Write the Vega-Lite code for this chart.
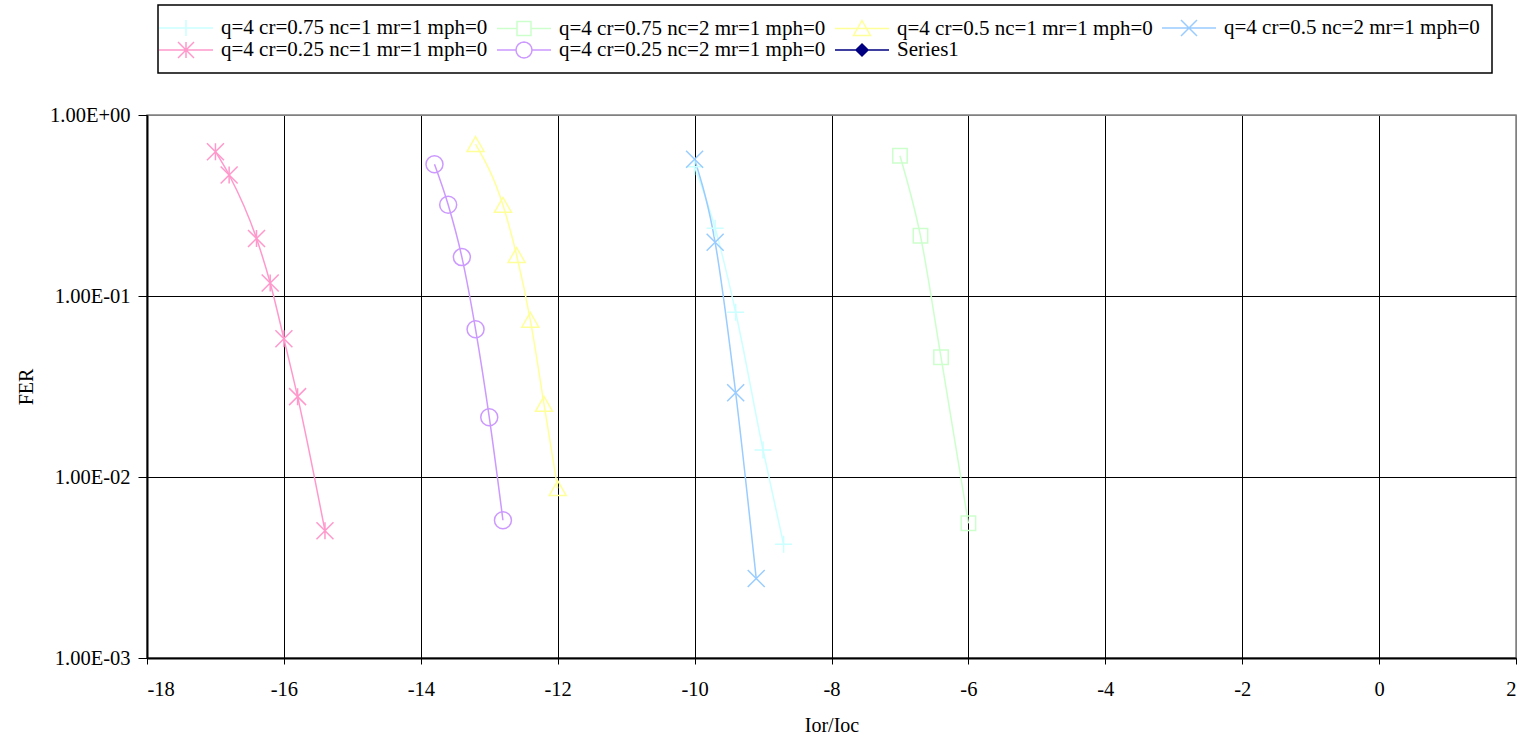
{
  "$schema": "https://vega.github.io/schema/vega-lite/v6.json",
  "width": 1369,
  "height": 543,
  "autosize": {"type": "none"},
  "padding": {"left": 147, "top": 115, "right": 14, "bottom": 82},
  "background": "white",
  "data": {"values": [
    {"s": "q=4 cr=0.75 nc=1 mr=1 mph=0", "x": -10.0, "y": 0.518},
    {"s": "q=4 cr=0.75 nc=1 mr=1 mph=0", "x": -9.7, "y": 0.237},
    {"s": "q=4 cr=0.75 nc=1 mr=1 mph=0", "x": -9.4, "y": 0.0813},
    {"s": "q=4 cr=0.75 nc=1 mr=1 mph=0", "x": -9.0, "y": 0.0141},
    {"s": "q=4 cr=0.75 nc=1 mr=1 mph=0", "x": -8.7, "y": 0.00425},
    {"s": "q=4 cr=0.75 nc=2 mr=1 mph=0", "x": -7.0, "y": 0.596},
    {"s": "q=4 cr=0.75 nc=2 mr=1 mph=0", "x": -6.7, "y": 0.215},
    {"s": "q=4 cr=0.75 nc=2 mr=1 mph=0", "x": -6.4, "y": 0.0459},
    {"s": "q=4 cr=0.75 nc=2 mr=1 mph=0", "x": -6.0, "y": 0.00555},
    {"s": "q=4 cr=0.5 nc=1 mr=1 mph=0", "x": -13.2, "y": 0.69},
    {"s": "q=4 cr=0.5 nc=1 mr=1 mph=0", "x": -12.8, "y": 0.318},
    {"s": "q=4 cr=0.5 nc=1 mr=1 mph=0", "x": -12.6, "y": 0.168},
    {"s": "q=4 cr=0.5 nc=1 mr=1 mph=0", "x": -12.4, "y": 0.0737},
    {"s": "q=4 cr=0.5 nc=1 mr=1 mph=0", "x": -12.2, "y": 0.0253},
    {"s": "q=4 cr=0.5 nc=1 mr=1 mph=0", "x": -12.0, "y": 0.00866},
    {"s": "q=4 cr=0.5 nc=2 mr=1 mph=0", "x": -10.0, "y": 0.569},
    {"s": "q=4 cr=0.5 nc=2 mr=1 mph=0", "x": -9.7, "y": 0.198},
    {"s": "q=4 cr=0.5 nc=2 mr=1 mph=0", "x": -9.4, "y": 0.0292},
    {"s": "q=4 cr=0.5 nc=2 mr=1 mph=0", "x": -9.1, "y": 0.00275},
    {"s": "q=4 cr=0.25 nc=1 mr=1 mph=0", "x": -17.0, "y": 0.627},
    {"s": "q=4 cr=0.25 nc=1 mr=1 mph=0", "x": -16.8, "y": 0.466},
    {"s": "q=4 cr=0.25 nc=1 mr=1 mph=0", "x": -16.4, "y": 0.208},
    {"s": "q=4 cr=0.25 nc=1 mr=1 mph=0", "x": -16.2, "y": 0.118},
    {"s": "q=4 cr=0.25 nc=1 mr=1 mph=0", "x": -16.0, "y": 0.058},
    {"s": "q=4 cr=0.25 nc=1 mr=1 mph=0", "x": -15.8, "y": 0.0278},
    {"s": "q=4 cr=0.25 nc=1 mr=1 mph=0", "x": -15.4, "y": 0.00505},
    {"s": "q=4 cr=0.25 nc=2 mr=1 mph=0", "x": -13.8, "y": 0.534},
    {"s": "q=4 cr=0.25 nc=2 mr=1 mph=0", "x": -13.6, "y": 0.319},
    {"s": "q=4 cr=0.25 nc=2 mr=1 mph=0", "x": -13.4, "y": 0.164},
    {"s": "q=4 cr=0.25 nc=2 mr=1 mph=0", "x": -13.2, "y": 0.0655},
    {"s": "q=4 cr=0.25 nc=2 mr=1 mph=0", "x": -13.0, "y": 0.0214},
    {"s": "q=4 cr=0.25 nc=2 mr=1 mph=0", "x": -12.8, "y": 0.00577}
  ]},
  "encoding": {
    "x": {
      "field": "x", "type": "quantitative",
      "scale": {"domain": [-18, 2], "nice": false, "zero": false},
      "axis": {
        "title": "Ior/Ioc",
        "values": [-18, -16, -14, -12, -10, -8, -6, -4, -2, 0, 2],
        "labelExpr": "'' + datum.value",
        "tickSize": 6,
        "labelPadding": 15,
        "titlePadding": 16,
        "gridColor": {"condition": {"test": "datum.value >= 2", "value": "#808080"}, "value": "black"}
      }
    },
    "y": {
      "field": "y", "type": "quantitative",
      "scale": {"type": "log", "domain": [0.001, 1], "nice": false},
      "axis": {
        "title": "FER",
        "values": [0.001, 0.01, 0.1, 1],
        "labelExpr": "datum.value > 0.5 ? '1.00E+00' : datum.value > 0.05 ? '1.00E-01' : datum.value > 0.005 ? '1.00E-02' : '1.00E-03'",
        "tickSize": 9,
        "labelPadding": 8,
        "titlePadding": 13,
        "gridColor": {"condition": {"test": "datum.value >= 0.5", "value": "#808080"}, "value": "black"}
      }
    },
    "color": {
      "field": "s", "type": "nominal", "title": null,
      "scale": {
        "domain": ["q=4 cr=0.75 nc=1 mr=1 mph=0", "q=4 cr=0.75 nc=2 mr=1 mph=0", "q=4 cr=0.5 nc=1 mr=1 mph=0", "q=4 cr=0.5 nc=2 mr=1 mph=0", "q=4 cr=0.25 nc=1 mr=1 mph=0", "q=4 cr=0.25 nc=2 mr=1 mph=0", "Series1"],
        "range": ["#CCFFFF", "#CCFFCC", "#FFFF99", "#99CCFF", "#FF99CC", "#CC99FF", "#000080"]
      },
      "legend": {
        "encode": {
          "symbols": {
            "update": {
              "shape": {"signal": "['M-2.7,0L2.7,0M0,-0.8L0,0.8', 'M-2.7,0L-0.7,0M0.7,0L2.7,0M-0.7,-0.7L0.7,-0.7L0.7,0.7L-0.7,0.7Z', 'M-2.7,0L2.7,0M0,-0.8L0.85,0.7L-0.85,0.7Z', 'M-2.7,0L2.7,0M-0.8,-0.8L0.8,0.8M-0.8,0.8L0.8,-0.8', 'M-2.7,0L2.7,0M-0.8,-0.8L0.8,0.8M-0.8,0.8L0.8,-0.8M0,-0.8L0,0.8', 'M-2.7,0L-0.8,0M0.8,0L2.7,0M0.8,0L0.739,0.306L0.566,0.566L0.306,0.739L0,0.8L-0.306,0.739L-0.566,0.566L-0.739,0.306L-0.8,0L-0.739,-0.306L-0.566,-0.566L-0.306,-0.739L0,-0.8L0.306,-0.739L0.566,-0.566L0.739,-0.306Z', 'M-2.7,0L2.7,0M0,-0.6L0.6,0L0,0.6L-0.6,0Z'][indexof(['q=4 cr=0.75 nc=1 mr=1 mph=0', 'q=4 cr=0.75 nc=2 mr=1 mph=0', 'q=4 cr=0.5 nc=1 mr=1 mph=0', 'q=4 cr=0.5 nc=2 mr=1 mph=0', 'q=4 cr=0.25 nc=1 mr=1 mph=0', 'q=4 cr=0.25 nc=2 mr=1 mph=0', 'Series1'], datum.value)]"},
              "fill": {"signal": "datum.value === 'Series1' ? '#000080' : 'transparent'"},
              "size": {"value": 400},
              "strokeWidth": {"value": 1.5},
              "opacity": {"value": 1}
            }
          }
        }
      }
    }
  },
  "layer": [
    {"mark": {"type": "line", "strokeWidth": 1.5, "interpolate": "monotone"}},
    {
      "transform": [{"filter": "datum.s === 'q=4 cr=0.75 nc=1 mr=1 mph=0'"}],
      "mark": {"type": "point", "filled": false, "strokeWidth": 1.5, "size": 289, "opacity": 1, "shape": "M-1,0L1,0M0,-1L0,1"}
    },
    {
      "transform": [{"filter": "datum.s === 'q=4 cr=0.75 nc=2 mr=1 mph=0'"}],
      "mark": {"type": "point", "filled": false, "strokeWidth": 1.5, "size": 289, "opacity": 1, "shape": "M-0.85,-0.85L0.85,-0.85L0.85,0.85L-0.85,0.85Z"}
    },
    {
      "transform": [{"filter": "datum.s === 'q=4 cr=0.5 nc=1 mr=1 mph=0'"}],
      "mark": {"type": "point", "filled": false, "strokeWidth": 1.5, "size": 289, "opacity": 1, "shape": "M0,-0.9L1,0.85L-1,0.85Z"}
    },
    {
      "transform": [{"filter": "datum.s === 'q=4 cr=0.5 nc=2 mr=1 mph=0'"}],
      "mark": {"type": "point", "filled": false, "strokeWidth": 1.5, "size": 289, "opacity": 1, "shape": "M-1,-1L1,1M-1,1L1,-1"}
    },
    {
      "transform": [{"filter": "datum.s === 'q=4 cr=0.25 nc=1 mr=1 mph=0'"}],
      "mark": {"type": "point", "filled": false, "strokeWidth": 1.5, "size": 289, "opacity": 1, "shape": "M-1,-1L1,1M-1,1L1,-1M0,-1L0,1"}
    },
    {
      "transform": [{"filter": "datum.s === 'q=4 cr=0.25 nc=2 mr=1 mph=0'"}],
      "mark": {"type": "point", "filled": false, "strokeWidth": 1.5, "size": 289, "opacity": 1, "shape": "circle"}
    }
  ],
  "config": {
    "font": "Liberation Serif, Times New Roman, serif",
    "view": {"stroke": "#808080", "strokeWidth": 1.5},
    "axis": {
      "labelFont": "Liberation Serif, Times New Roman, serif",
      "labelFontSize": 20.5,
      "labelColor": "black",
      "titleFont": "Liberation Serif, Times New Roman, serif",
      "titleFontSize": 20,
      "titleFontWeight": "normal",
      "titleColor": "black",
      "domainColor": "black",
      "domainWidth": 2,
      "tickColor": "black",
      "tickWidth": 1,
      "grid": true,
      "gridWidth": 1,
      "gridOpacity": 1
    },
    "legend": {
      "orient": "none",
      "legendX": 11,
      "legendY": -110,
      "columns": 4,
      "direction": "horizontal",
      "gridAlign": "each",
      "columnPadding": 6,
      "rowPadding": 0,
      "padding": 12,
      "strokeColor": "black",
      "strokeWidth": 1.5,
      "fillColor": "white",
      "labelFont": "Liberation Serif, Times New Roman, serif",
      "labelFontSize": 21,
      "labelColor": "black",
      "symbolOffset": 5,
      "labelOffset": 24,
      "labelLimit": 600,
      "symbolSize": 400,
      "symbolStrokeWidth": 1.5,
      "symbolOpacity": 1
    }
  }
}
